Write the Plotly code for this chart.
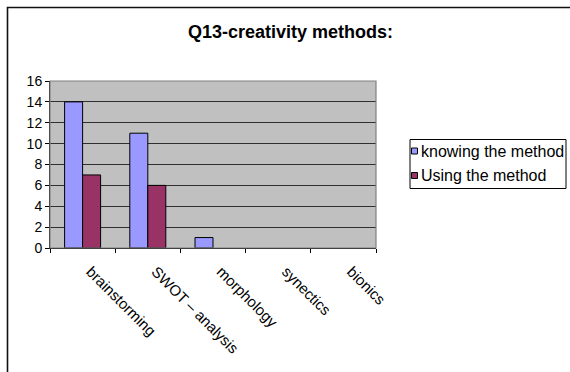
import plotly.graph_objects as go

# Survey answers for question 13
methods = ["brainstorming", "SWOT – analysis", "morphology", "synectics", "bionics"]
knowing = [14, 11, 1, 0, 0]
using = [7, 6, 0, 0, 0]
series_names = ["knowing the method", "Using the method"]
series_colors = ["#9999FF", "#993366"]
y_ticks = [0, 2, 4, 6, 8, 10, 12, 14, 16]
title_text = "Q13-creativity methods:"

FONT = "Liberation Sans, Arial, sans-serif"

# Plot-area box in pixels (570 x 372 canvas)
L, R, T, B = 50, 376, 81, 248
W, H = R - L, B - T


def px(xp):
    return (xp - L) / W


def py(yp):
    return (B - yp) / H


fig = go.Figure()
for name, vals, col in zip(series_names, [knowing, using], series_colors):
    # empty bars get no outline so nothing is drawn on the baseline
    widths = [1 if v else 0 for v in vals]
    fig.add_trace(go.Bar(
        x=methods, y=vals, name=name,
        marker=dict(color=col, line=dict(color="black", width=widths)),
        showlegend=False,
    ))

shapes = [
    # outer chart frame
    dict(type="rect", xref="paper", yref="paper",
         x0=px(7.5), x1=px(620), y0=py(420), y1=py(7.5),
         line=dict(color="#111111", width=1.6), layer="below"),
    # plot-area border
    dict(type="rect", xref="paper", yref="paper",
         x0=0, x1=1, y0=0, y1=1,
         line=dict(color="#808080", width=1.2), layer="above"),
]

annotations = [
    dict(text="<b>" + title_text + "</b>", xref="paper", yref="paper",
         x=px(290.5), y=py(31.5), xanchor="center", yanchor="middle",
         showarrow=False, font=dict(family=FONT, size=18, color="black")),
]

# legend box
leg_x0, leg_x1, leg_y0, leg_y1 = 410, 566, 139.5, 188.5
shapes.append(dict(type="rect", xref="paper", yref="paper",
                   x0=px(leg_x0), x1=px(leg_x1), y0=py(leg_y1), y1=py(leg_y0),
                   line=dict(color="black", width=1), fillcolor="white",
                   layer="above"))
for i, (name, col) in enumerate(zip(series_names, series_colors)):
    cy = 151 + i * 24.5
    shapes.append(dict(type="rect", xref="paper", yref="paper",
                       x0=px(411.5), x1=px(417.5), y0=py(cy + 3), y1=py(cy - 3),
                       line=dict(color="black", width=1), fillcolor=col,
                       layer="above"))
    annotations.append(dict(text=name, xref="paper", yref="paper",
                            x=px(418.5), y=py(cy), xanchor="left", yanchor="middle",
                            showarrow=False,
                            font=dict(family=FONT, size=16, color="black")))

fig.update_layout(
    width=570, height=372,
    margin=dict(l=L, r=570 - R, t=T, b=372 - B, pad=0),
    paper_bgcolor="white",
    plot_bgcolor="#C0C0C0",
    barmode="group",
    bargap=0.448,
    bargroupgap=0,
    showlegend=False,
    shapes=shapes,
    annotations=annotations,
    font=dict(family=FONT, size=14, color="black"),
    xaxis=dict(
        type="category",
        tickangle=45,
        tickson="boundaries",
        ticks="outside", ticklen=4, tickcolor="black", tickwidth=1,
        showline=True, linecolor="black", linewidth=1,
        showgrid=False,
        ticklabelstandoff=8,
        ticklabelshift=8,
        tickfont=dict(family=FONT, size=15, color="black"),
    ),
    yaxis=dict(
        range=[0, 16],
        tickvals=y_ticks,
        ticks="outside", ticklen=4, tickcolor="black", tickwidth=1,
        showline=True, linecolor="black", linewidth=1,
        showgrid=True, gridcolor="#303030", gridwidth=1,
        zeroline=False,
        tickfont=dict(family=FONT, size=14, color="black"),
    ),
)

fig.write_html("out.html")
